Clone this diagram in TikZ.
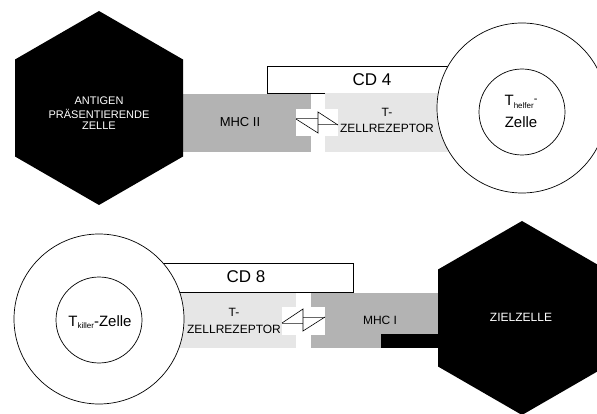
\documentclass[tikz,border=0pt]{standalone}
\usepackage{fontspec}
\setmainfont{Liberation Sans}
\definecolor{mhcgray}{HTML}{B3B3B3}
\definecolor{tcrgray}{HTML}{E6E6E6}
\newcommand{\fs}[1]{\fontsize{#1}{#1}\selectfont}
\begin{document}
\begin{tikzpicture}[x=1pt,y=-1pt, line width=0.7pt,
  cdbox/.style={draw=black, fill=white},
  mhcbox/.style={fill=mhcgray},
  tcrbox/.style={fill=tcrgray},
  notch/.style={fill=white},
  harp/.style={draw=black, line width=0.6pt, line join=miter},
  harpline/.style={draw=black!60, line width=1pt},
  cellring/.style={draw=black, fill=white, line width=0.7pt},
  hexcell/.style={fill=black},
  lbl/.style={inner sep=0pt, align=center, text=black},
  wlbl/.style={inner sep=0pt, align=center, text=white},
]
\useasboundingbox (0,0) rectangle (597,414);
\clip (0,0) rectangle (597,414);

% ---------- top row ----------
\draw[cdbox] (267,66) rectangle (460,93);
\fill[mhcbox] (183,94) rectangle (311,152);
\fill[tcrbox] (325,93) rectangle (455,152);
\fill[notch] (296,109) rectangle (338,136);
\coordinate (a1) at (296,119);
\coordinate (a2) at (318,133);
\coordinate (a3) at (318,112);
\coordinate (a4) at (338,125);
\coordinate (a5) at (318,125);
\coordinate (a6) at (318,119);
\draw[harpline] (a1) -- (a6);
\draw[harpline] (a5) -- (a4);
\draw[harp] (a1) -- (a2) -- (a3) -- (a4);

\fill[hexcell] (99,11) -- (183,59.5) -- (183,156.5) -- (99,205) -- (15,156.5) -- (15,59.5) -- cycle;
\draw[cellring] (522,108) circle[radius=85pt];
\draw[cellring] (522,112) circle[radius=43pt];

\node[wlbl, font=\fs{11}, text width=110pt] (apc) at (99,113)
  {\baselineskip=14.5pt ANTIGEN\\PRÄSENTIERENDE\\ZELLE};
\node[lbl, font=\fs{13}] (mhc2) at (240,122) {MHC II};
\node[lbl, font=\fs{17}] (cd4) at (372,80) {CD 4};
\node[lbl, font=\fs{12}] (tcr1a) at (387,112) {T-};
\node[lbl, font=\fs{12}] (tcr1b) at (387,128) {ZELLREZEPTOR};
\node[lbl, font=\fs{15}] (th1) at (521,102) {T\raisebox{-2.5pt}{\fs{8}helfer}\raisebox{3pt}{\fs{11}-}};
\node[lbl, font=\fs{15}] (th2) at (521,122) {Zelle};

% ---------- bottom row ----------
\draw[cdbox] (140,263) rectangle (353,292);
\fill[tcrbox] (140,293) rectangle (296,348);
\fill[mhcbox] (311,293) rectangle (440,348);
\fill[notch] (282,307) rectangle (325,335);
\fill[black] (381,334) rectangle (440,348);
\coordinate (b1) at (282,323);
\coordinate (b2) at (303,309);
\coordinate (b3) at (303,331);
\coordinate (b4) at (325,317);
\coordinate (b5) at (303,317);
\coordinate (b6) at (303,323);
\draw[harpline] (b1) -- (b6);
\draw[harpline] (b5) -- (b4);
\draw[harp] (b1) -- (b2) -- (b3) -- (b4);

\fill[hexcell] (522,221) -- (606,269.5) -- (606,366.5) -- (522,415) -- (438,366.5) -- (438,269.5) -- cycle;
\draw[cellring] (99,319) circle[radius=85pt];
\draw[cellring] (99,320) circle[radius=43pt];

\node[lbl, font=\fs{17}] (cd8) at (246,277) {CD 8};
\node[lbl, font=\fs{12}] (tcr2a) at (234,312) {T-};
\node[lbl, font=\fs{12}] (tcr2b) at (234,329) {ZELLREZEPTOR};
\node[lbl, font=\fs{12}] (mhc1) at (380,320) {MHC I};
\node[wlbl, font=\fs{12}] (ziel) at (521,317) {ZIELZELLE};
\node[lbl, font=\fs{15}] (tk) at (100,322) {T\raisebox{-2.5pt}{\fs{8}killer}-Zelle};
\end{tikzpicture}
\end{document}
